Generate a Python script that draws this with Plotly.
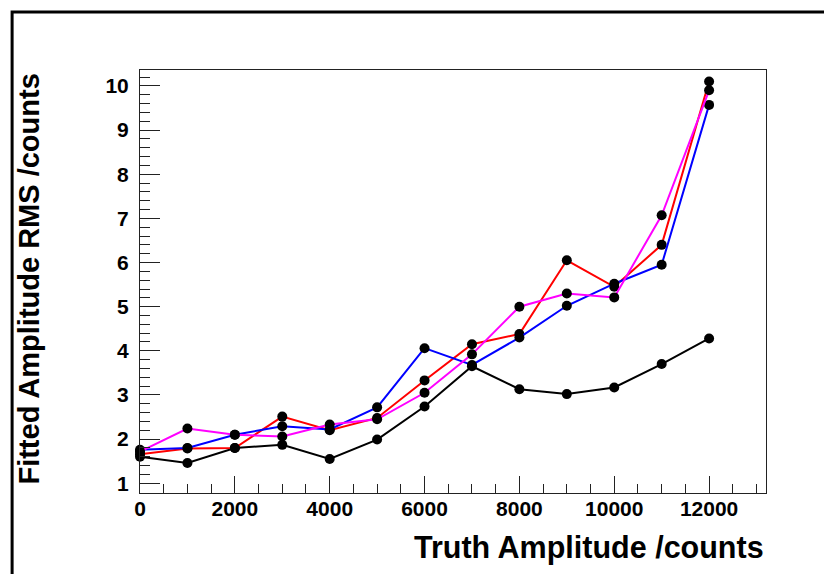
import plotly.graph_objects as go

# Truth amplitude (counts)
truth = [0, 1000, 2000, 3000, 4000, 5000, 6000, 7000, 8000, 9000, 10000, 11000, 12000]

# Fitted amplitude RMS (counts) for each series
rms_black = [1.60, 1.46, 1.80, 1.87, 1.55, 1.99, 2.74, 3.65, 3.13, 3.02, 3.17, 3.70, 4.28]
rms_red = [1.66, 1.79, 1.80, 2.51, 2.20, 2.48, 3.33, 4.15, 4.38, 6.05, 5.45, 6.40, 10.10]
rms_blue = [1.76, 1.80, 2.10, 2.29, 2.22, 2.72, 4.06, 3.68, 4.30, 5.02, 5.52, 5.95, 9.57]
rms_magenta = [1.72, 2.24, 2.10, 2.06, 2.33, 2.45, 3.05, 3.92, 5.00, 5.30, 5.21, 7.07, 9.90]

series = [
    ("black", rms_black, "#000000"),
    ("red", rms_red, "#ff0000"),
    ("blue", rms_blue, "#0000ff"),
    ("magenta", rms_magenta, "#ff00ff"),
]

FONT = "Liberation Sans, Arial, Helvetica, sans-serif"

fig = go.Figure()
for name, ys, col in series:
    fig.add_trace(go.Scatter(
        x=truth, y=ys, mode="lines+markers", name=name,
        line=dict(color=col, width=2),
        marker=dict(color="#000000", size=10, symbol="circle"),
        cliponaxis=False, showlegend=False,
    ))

# page offset of the plot div (browser default body margin)
OFF = 8
W, H = 832 - OFF, 574 - OFF
# plot area in page pixels
PL, PR, PT, PB = 139.5, 766, 69.5, 493
L, R, T, B = PL - OFF, W - (PR - OFF), PT - OFF, H - (PB - OFF)
pw, ph = W - L - R, H - T - B

def px_x(p):
    return (p - OFF - L) / pw

def px_y(p):
    return (H - B - (p - OFF)) / ph

fig.update_layout(
    width=W, height=H,
    margin=dict(l=L, r=R, t=T, b=B, autoexpand=False),
    paper_bgcolor="white", plot_bgcolor="white",
    font=dict(family=FONT, size=20, color="black"),
    xaxis=dict(
        range=[0, 13200], showgrid=False, zeroline=False,
        showline=True, linecolor="#222222", linewidth=1, mirror=True,
        ticks="inside", ticklen=17, tickwidth=1, tickcolor="#222222",
        tick0=0, dtick=2000, tickformat="d",
        tickfont=dict(family=FONT, size=21, color="black", weight="bold"),
        ticklabelstandoff=-3,
        minor=dict(ticks="inside", ticklen=9, dtick=500, tick0=0, tickcolor="#222222", showgrid=False),
    ),
    yaxis=dict(
        range=[0.78, 10.36], showgrid=False, zeroline=False,
        showline=True, linecolor="#222222", linewidth=1, mirror=True,
        ticks="inside", ticklen=20, tickwidth=1, tickcolor="#222222",
        tick0=0, dtick=1, tickformat="d",
        tickfont=dict(family=FONT, size=21, color="black", weight="bold"),
        ticklabelstandoff=6,
        minor=dict(ticks="inside", ticklen=10, dtick=0.2, tick0=0, tickcolor="#222222", showgrid=False),
    ),
    annotations=[
        dict(text="Truth Amplitude /counts", xref="paper", yref="paper",
             x=1.0, y=px_y(548), xanchor="right", yanchor="middle", showarrow=False,
             font=dict(family=FONT, size=30.5, color="black", weight="bold")),
        dict(text="Fitted Amplitude RMS /counts", xref="paper", yref="paper",
             x=px_x(28), y=px_y(71), xanchor="center", yanchor="top", textangle=-90,
             showarrow=False,
             font=dict(family=FONT, size=29, color="black", weight="bold")),
    ],
    shapes=[
        dict(type="rect", xref="paper", yref="paper",
             x0=px_x(11.5), x1=px_x(845), y0=px_y(11.5), y1=px_y(590),
             line=dict(color="black", width=3), fillcolor="rgba(0,0,0,0)", layer="above"),
    ],
)

fig.write_html("out.html")
